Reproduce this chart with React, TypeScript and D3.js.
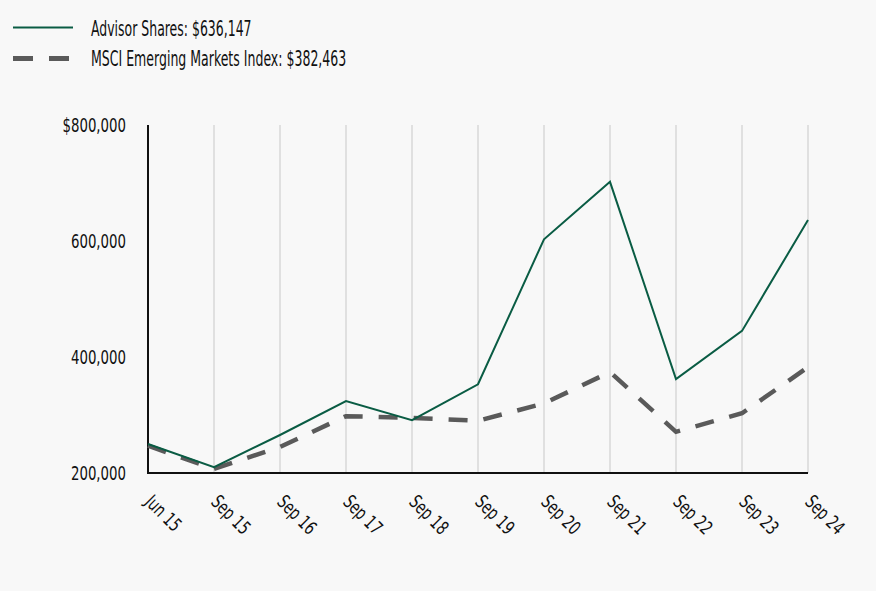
import React from "react";
import * as d3 from "d3";

const categories = ["Jun 15", "Sep 15", "Sep 16", "Sep 17", "Sep 18", "Sep 19", "Sep 20", "Sep 21", "Sep 22", "Sep 23", "Sep 24"];
const advisorValues = [250000, 210000, 265500, 324000, 291000, 353000, 603000, 702000, 362000, 445000, 636147];
const msciValues = [247000, 207000, 245000, 298000, 295000, 290000, 320000, 374000, 271000, 303000, 382463];
const yTicks = [200000, 400000, 600000, 800000];
const legendLabels = ["Advisor Shares: $636,147", "MSCI Emerging Markets Index: $382,463"];

const W = 876, H = 591;
const M = { left: 148, right: 68, top: 125, bottom: 118 };
const FONT = "'DejaVu Sans Condensed', 'DejaVu Sans', sans-serif";
const GREEN = "#0a5c44";
const GRAY = "#5a5a5a";

type TP = { x: number; y: number; size: number; sx: number; anchor?: string; rot?: number; dy?: string; children: React.ReactNode };
function T({ x, y, size, sx, anchor = "start", rot = 0, dy, children }: TP) {
  return (
    <g transform={`translate(${x},${y}) rotate(${rot}) scale(${sx},1)`}>
      <text x={0} y={0} dy={dy} textAnchor={anchor} fontSize={size} fill="#111">{children}</text>
    </g>
  );
}

export default function App() {
  const x = d3.scalePoint<string>().domain(categories).range([M.left, W - M.right]);
  const y = d3.scaleLinear().domain([200000, 800000]).range([H - M.bottom, M.top]);
  const line = d3.line<number>().x((_, i) => x(categories[i]) as number).y((d) => y(d));
  const fmt = (v: number, i: number) => (i === yTicks.length - 1 ? "$" : "") + d3.format(",")(v);

  return (
    <div style={{ position: "absolute", left: 0, top: 0, width: W, height: H, background: "#f8f8f8" }}>
      <svg width={W} height={H} style={{ display: "block", fontFamily: FONT }}>
        <rect width={W} height={H} fill="#f8f8f8" />
        {/* legend */}
        <line x1={13} x2={73} y1={27.5} y2={27.5} stroke={GREEN} strokeWidth={2} />
        <T x={91} y={36} size={20.5} sx={0.677}>{legendLabels[0]}</T>
        <line x1={13} x2={70} y1={58.5} y2={58.5} stroke={GRAY} strokeWidth={5} strokeDasharray="20 16" />
        <T x={91} y={66} size={20.5} sx={0.68}>{legendLabels[1]}</T>
        {/* grid */}
        {categories.slice(1).map((c) => (
          <line key={c} x1={x(c)} x2={x(c)} y1={M.top} y2={H - M.bottom} stroke="#e0e0e0" strokeWidth={2} />
        ))}
        {/* axes */}
        <line x1={M.left} x2={M.left} y1={M.top} y2={H - M.bottom + 1} stroke="#111" strokeWidth={2} />
        <line x1={M.left - 1} x2={W - M.right} y1={H - M.bottom} y2={H - M.bottom} stroke="#111" strokeWidth={2} />
        {yTicks.map((t, i) => (
          <T key={t} x={126} y={y(t)} size={19} sx={0.78} anchor="end" dy="0.36em">{fmt(t, i)}</T>
        ))}
        {categories.map((c) => (
          <T key={c} x={(x(c) as number) - 4} y={H - M.bottom + 30} size={19} sx={0.78} rot={45}>{c}</T>
        ))}
        {/* series */}
        <path d={line(msciValues) as string} fill="none" stroke={GRAY} strokeWidth={4.5} strokeDasharray="19 16" />
        <path d={line(advisorValues) as string} fill="none" stroke={GREEN} strokeWidth={2} />
      </svg>
    </div>
  );
}
